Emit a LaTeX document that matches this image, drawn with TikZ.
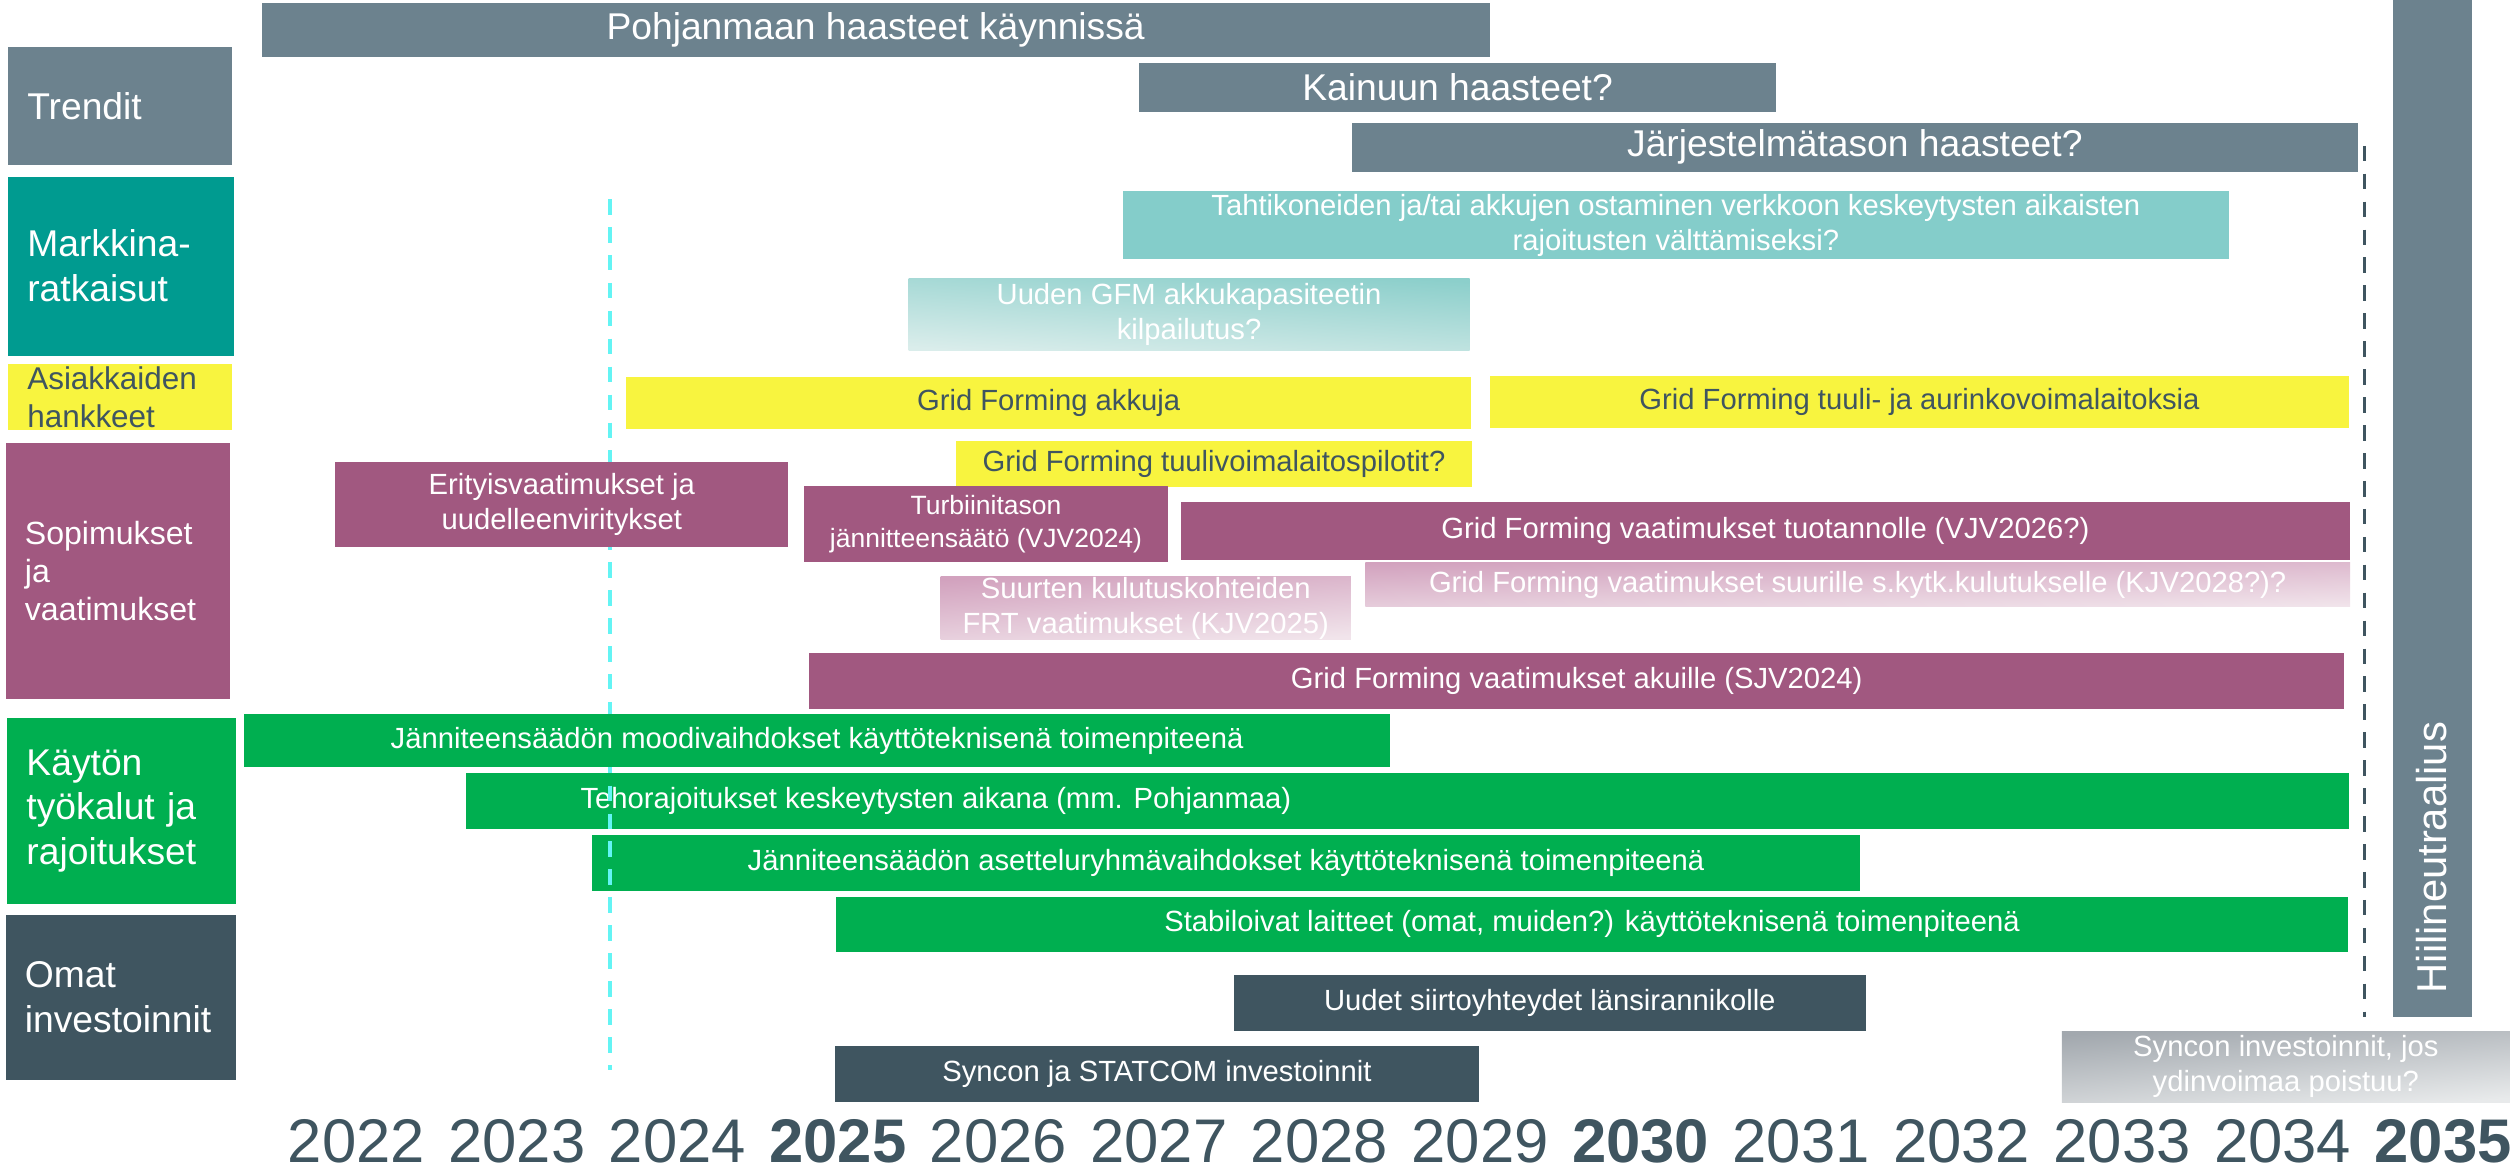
\documentclass[tikz,border=0pt]{standalone}
\usepackage{fontspec}
\setmainfont{Liberation Sans}
\usepackage{xcolor}
\usepackage{tikz}
\definecolor{harmaa}{RGB}{108,130,142}
\definecolor{petrooli}{RGB}{0,155,144}
\definecolor{turkoosi}{RGB}{132,205,202}
\definecolor{keltainen}{RGB}{248,244,63}
\definecolor{violetti}{RGB}{161,88,128}
\definecolor{vihrea}{RGB}{0,175,80}
\definecolor{tumma}{RGB}{63,85,96}
\definecolor{syaani}{RGB}{100,244,244}
\definecolor{gfmyla}{RGB}{140,207,203}
\definecolor{gfmala}{RGB}{218,237,235}
\definecolor{pinkkiyla}{RGB}{210,162,190}
\definecolor{pinkkiala}{RGB}{241,228,235}
\definecolor{harmaayla}{RGB}{162,168,174}
\definecolor{harmaaala}{RGB}{232,234,235}
\tikzset{
  palkki/.style={rectangle,inner sep=0pt,align=center,text=white,font=\fontsize{18.2}{21.8}\selectfont},
  trendi/.style={palkki,fill=harmaa,font=\fontsize{23.2}{28}\selectfont},
  keltapalkki/.style={palkki,fill=keltainen,text=tumma},
  violettipalkki/.style={palkki,fill=violetti},
  vihreapalkki/.style={palkki,fill=vihrea},
  tummapalkki/.style={palkki,fill=tumma},
  pinkkipalkki/.style={palkki,top color=pinkkiyla,bottom color=pinkkiala,shading angle=#1},
  kategoria/.style={rectangle,inner xsep=12pt,inner ysep=0pt,align=left,text=white,font=\fontsize{23.2}{28}\selectfont},
  vuosi/.style={anchor=base,inner sep=0pt,text=tumma,font=\fontsize{38.4}{46}\selectfont},
  katkoviiva/.style={line width=2pt,dash pattern=on 9.7pt off 7.7pt}
}
\begin{document}
\begin{tikzpicture}[x=1pt,y=-1pt]
\useasboundingbox (0,0) rectangle (1568,728);
\node[kategoria,fill=harmaa,text width=115.5pt,minimum height=74pt] (trendit) at (74.75,66) {Trendit};
\node[kategoria,fill=petrooli,text width=116.5pt,minimum height=111.5pt] (markkina) at (75.25,165.75) {Markkina-\\ratkaisut};
\node[kategoria,fill=keltainen,text=tumma,font=\fontsize{19.6}{23.5}\selectfont,text width=115.5pt,minimum height=41pt] (asiakas) at (74.75,247.5) {Asiakkaiden\\hankkeet};
\node[kategoria,fill=violetti,font=\fontsize{20}{23.5}\selectfont,text width=116pt,minimum height=159.5pt] (sopimus) at (73.5,355.75) {Sopimukset\\ja\\vaatimukset};
\node[kategoria,fill=vihrea,text width=118.5pt,minimum height=115.5pt] (kaytto) at (75.75,505.25) {Käytön\\työkalut ja\\rajoitukset};
\node[kategoria,fill=tumma,text width=119.5pt,minimum height=102.5pt] (omat) at (75.25,621.25) {Omat\\investoinnit};

\node[trendi,minimum width=765pt,minimum height=33.3pt] (pohjanmaa) at (545.5,18.65) {Pohjanmaan haasteet käynnissä};
\node[trendi,minimum width=397pt,minimum height=30.3pt] (kainuu) at (908,54.45) {Kainuun haasteet?};
\node[trendi,minimum width=627pt,minimum height=30.4pt] (jarjestelma) at (1155.5,91.8) {Järjestelmätason haasteet?};
\node[palkki,fill=harmaa,minimum width=49pt,minimum height=633.5pt] (hiili) at (1515.5,316.75) {};
\node[rotate=90,anchor=west,inner sep=0pt,text=white,font=\fontsize{26}{31}\selectfont] (hiiliteksti) at (1515,619) {Hiilineutraalius};

\node[palkki,fill=turkoosi,minimum width=689pt,minimum height=42.6pt] (tahti) at (1044,140.3) {Tahtikoneiden ja/tai akkujen ostaminen verkkoon keskeytysten aikaisten\\rajoitusten välttämiseksi?};
\node[palkki,top color=gfmyla,bottom color=gfmala,shading angle=-4,minimum width=349.5pt,minimum height=45.3pt] (gfm) at (740.75,195.85) {Uuden GFM akkukapasiteetin\\kilpailutus?};

\node[keltapalkki,minimum width=526.5pt,minimum height=32pt] (gfakku) at (653.25,251) {Grid Forming akkuja};
\node[keltapalkki,minimum width=535.5pt,minimum height=32.2pt] (gftuuli) at (1195.75,250.4) {Grid Forming tuuli- ja aurinkovoimalaitoksia};
\node[keltapalkki,minimum width=321.5pt,minimum height=28.3pt] (gfpilotti) at (756.25,289.15) {Grid Forming tuulivoimalaitospilotit?};

\node[vihreapalkki,minimum width=1173.5pt,minimum height=34.7pt] (teho) at (876.75,499.05) {};
\node[palkki] (tehoteksti) at (583,499.05) {Tehorajoitukset keskeytysten aikana (mm. Pohjanmaa)};
\node[vihreapalkki,minimum width=790.5pt,minimum height=34.7pt] (asettelu) at (763.75,537.65) {Jänniteensäädön asetteluryhmävaihdokset käyttöteknisenä toimenpiteenä};

\coordinate (syaani1) at (380,124);
\coordinate (syaani2) at (380,666.5);
\draw[katkoviiva,syaani] (syaani1) -- (syaani2);
\coordinate (raja1) at (1473,90.8);
\coordinate (raja2) at (1473,633.5);
\draw[katkoviiva,tumma] (raja1) -- (raja2);

\node[violettipalkki,minimum width=282pt,minimum height=53pt] (erityis) at (350,314.5) {Erityisvaatimukset ja\\uudelleenviritykset};
\node[violettipalkki,font=\fontsize{16.5}{20.8}\selectfont,minimum width=226.5pt,minimum height=47pt] (turbiini) at (614.25,326.5) {Turbiinitason\\jännitteensäätö (VJV2024)};
\node[violettipalkki,minimum width=728.5pt,minimum height=36pt] (vjv) at (1099.75,331) {Grid Forming vaatimukset tuotannolle (VJV2026?)};
\node[pinkkipalkki=4,minimum width=255.5pt,minimum height=38.4pt] (frt) at (713.75,378.8) {Suurten kulutuskohteiden\\FRT vaatimukset (KJV2025)};
\node[pinkkipalkki=1.5,minimum width=613.5pt,minimum height=27.8pt] (kjv) at (1157.25,364.1) {Grid Forming vaatimukset suurille s.kytk.kulutukselle (KJV2028?)?};
\node[violettipalkki,minimum width=956.5pt,minimum height=34.6pt] (sjv) at (982.25,424.3) {Grid Forming vaatimukset akuille (SJV2024)};

\node[vihreapalkki,minimum width=714pt,minimum height=32.8pt] (moodi) at (509,461.4) {Jänniteensäädön moodivaihdokset käyttöteknisenä toimenpiteenä};
\node[vihreapalkki,minimum width=941.5pt,minimum height=34.5pt] (stabiloivat) at (991.75,575.75) {Stabiloivat laitteet (omat, muiden?) käyttöteknisenä toimenpiteenä};

\node[tummapalkki,minimum width=394pt,minimum height=34.7pt] (siirto) at (965.5,624.85) {Uudet siirtoyhteydet länsirannikolle};
\node[tummapalkki,minimum width=401.5pt,minimum height=34.7pt] (syncon) at (720.75,669.15) {Syncon ja STATCOM investoinnit};
\node[palkki,top color=harmaayla,bottom color=harmaaala,shading angle=5,minimum width=279pt,minimum height=44.1pt] (ydinvoima) at (1424,664.45) {Syncon investoinnit, jos\\ydinvoimaa poistuu?};

\foreach \v in {2022,...,2035}{
  \pgfmathtruncatemacro{\m}{mod(\v,5)}
  \ifnum\m=0 \def\paino{\bfseries}\else\def\paino{}\fi
  \node[vuosi] (v\v) at ({222+100*(\v-2022)},724) {\paino\v};
}
\end{tikzpicture}
\end{document}
